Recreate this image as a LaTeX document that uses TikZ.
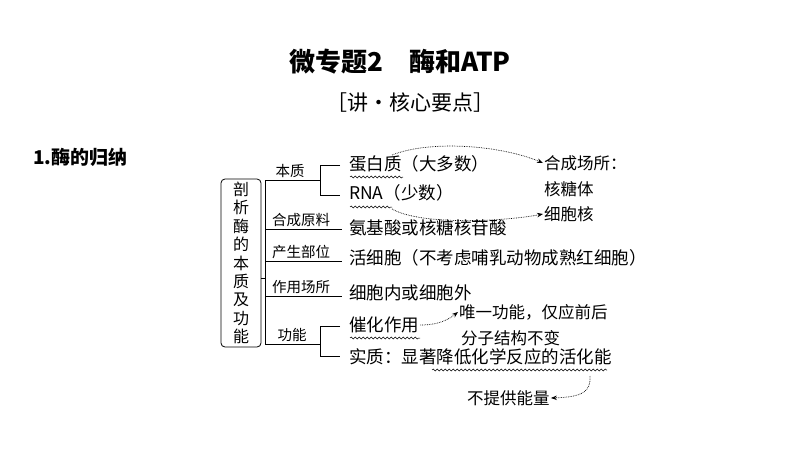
\documentclass[tikz,border=0pt]{standalone}
\usepackage{fontspec}
\setmainfont{Liberation Serif}
\newfontfamily\cjk{Noto Sans CJK SC}
\usetikzlibrary{positioning,decorations.pathmorphing,arrows.meta}
\tikzset{
  x=1pt, y=-1pt,
  every node/.style={inner sep=1pt, font=\cjk\fontsize{17.5}{20}\selectfont},
  lbl/.style={font=\cjk\fontsize{14.5}{16}\selectfont, anchor=south},
  item/.style={anchor=west},
  hand/.style={font=\cjk\fontsize{16.5}{18}\selectfont, anchor=west},
  branch/.style={line width=0.8pt},
  wavy/.style={decorate, decoration={snake, amplitude=1pt, segment length=4pt}, line width=0.5pt},
  dasharrow/.style={densely dotted, line width=0.7pt, -{Stealth[length=6pt]}},
}
\begin{document}
\begin{tikzpicture}
\useasboundingbox (0,0) rectangle (800,450);
% titles
\node[font=\cjk\bfseries\fontsize{26}{30}\selectfont] (title) at (400,62) {微专题2\quad 酶和ATP};
\node[font=\cjk\fontsize{21}{24}\selectfont] (sub) at (410,103) {［讲·核心要点］};
\node[font=\cjk\bfseries\fontsize{19}{22}\selectfont, anchor=west] (head) at (32,157) {1.酶的归纳};
% root box
\node[draw, rounded corners=4pt, line width=0.8pt, minimum width=40pt, minimum height=168pt,
      align=center, font=\cjk\fontsize{16}{18.4}\selectfont] (root) at (241,263)
      {剖\\析\\酶\\的\\本\\质\\及\\功\\能};
\coordinate (hub) at (265,278);
\draw[branch] (root.east |- hub) -- (hub);
\draw[branch] (265,180) -- (265,344);
% branches
\draw[branch] (265,180) -- (320,180);
\draw[branch] (265,229) -- (342,229);
\draw[branch] (265,261) -- (342,261);
\draw[branch] (265,296) -- (342,296);
\draw[branch] (265,344) -- (320,344);
\draw[branch] (340,165) -- (320,165) -- (320,195) -- (340,195);
\draw[branch] (340,326) -- (320,326) -- (320,356) -- (340,356);
\node[lbl] (l1) at (290,179) {本质};
\node[lbl] (l2) at (301,228) {合成原料};
\node[lbl] (l3) at (301,260) {产生部位};
\node[lbl] (l4) at (301,295) {作用场所};
\node[lbl] (l5) at (292,343) {功能};
% items
\node[item] (prot) at (348,164) {蛋白质（大多数）};
\node[item] (rna) at (348,193) {RNA（少数）};
\node[item] (amino) at (348,228) {氨基酸或核糖核苷酸};
\node[item] (cell) at (348,258) {活细胞（不考虑哺乳动物成熟红细胞）};
\node[item] (place) at (348,293) {细胞内或细胞外};
\node[item] (cata) at (348,325) {催化作用};
\node[item] (ess) at (348,357) {实质：显著降低化学反应的活化能};
% handwritten notes
\node[hand] (syn) at (543,163) {合成场所：};
\node[hand] (ribo) at (543,189) {核糖体};
\node[hand] (nuc) at (543,214) {细胞核};
\node[hand] (only) at (458,312) {唯一功能，仅应前后};
\node[hand] (mol) at (460,338) {分子结构不变};
\node[hand] (noen) at (466,398) {不提供能量};
% wavy underlines
\draw[wavy] (350,177) -- (403,177);
\draw[wavy] (350,207) -- (392,207);
\draw[wavy] (350,338) -- (420,338);
\draw[wavy] (432,370) -- (607,370);
% dotted arrows
\draw[dasharrow] (392,155) .. controls (430,140) and (500,145) .. (syn.west);
\draw[dasharrow] (392,209) .. controls (420,225) and (500,222) .. (nuc.west);
\draw[dasharrow] (cata.east) .. controls (438,325) and (448,320) .. (only.west);
\draw[dasharrow] (590,376) .. controls (591,392) and (582,397) .. (noen.east);
\end{tikzpicture}
\end{document}
